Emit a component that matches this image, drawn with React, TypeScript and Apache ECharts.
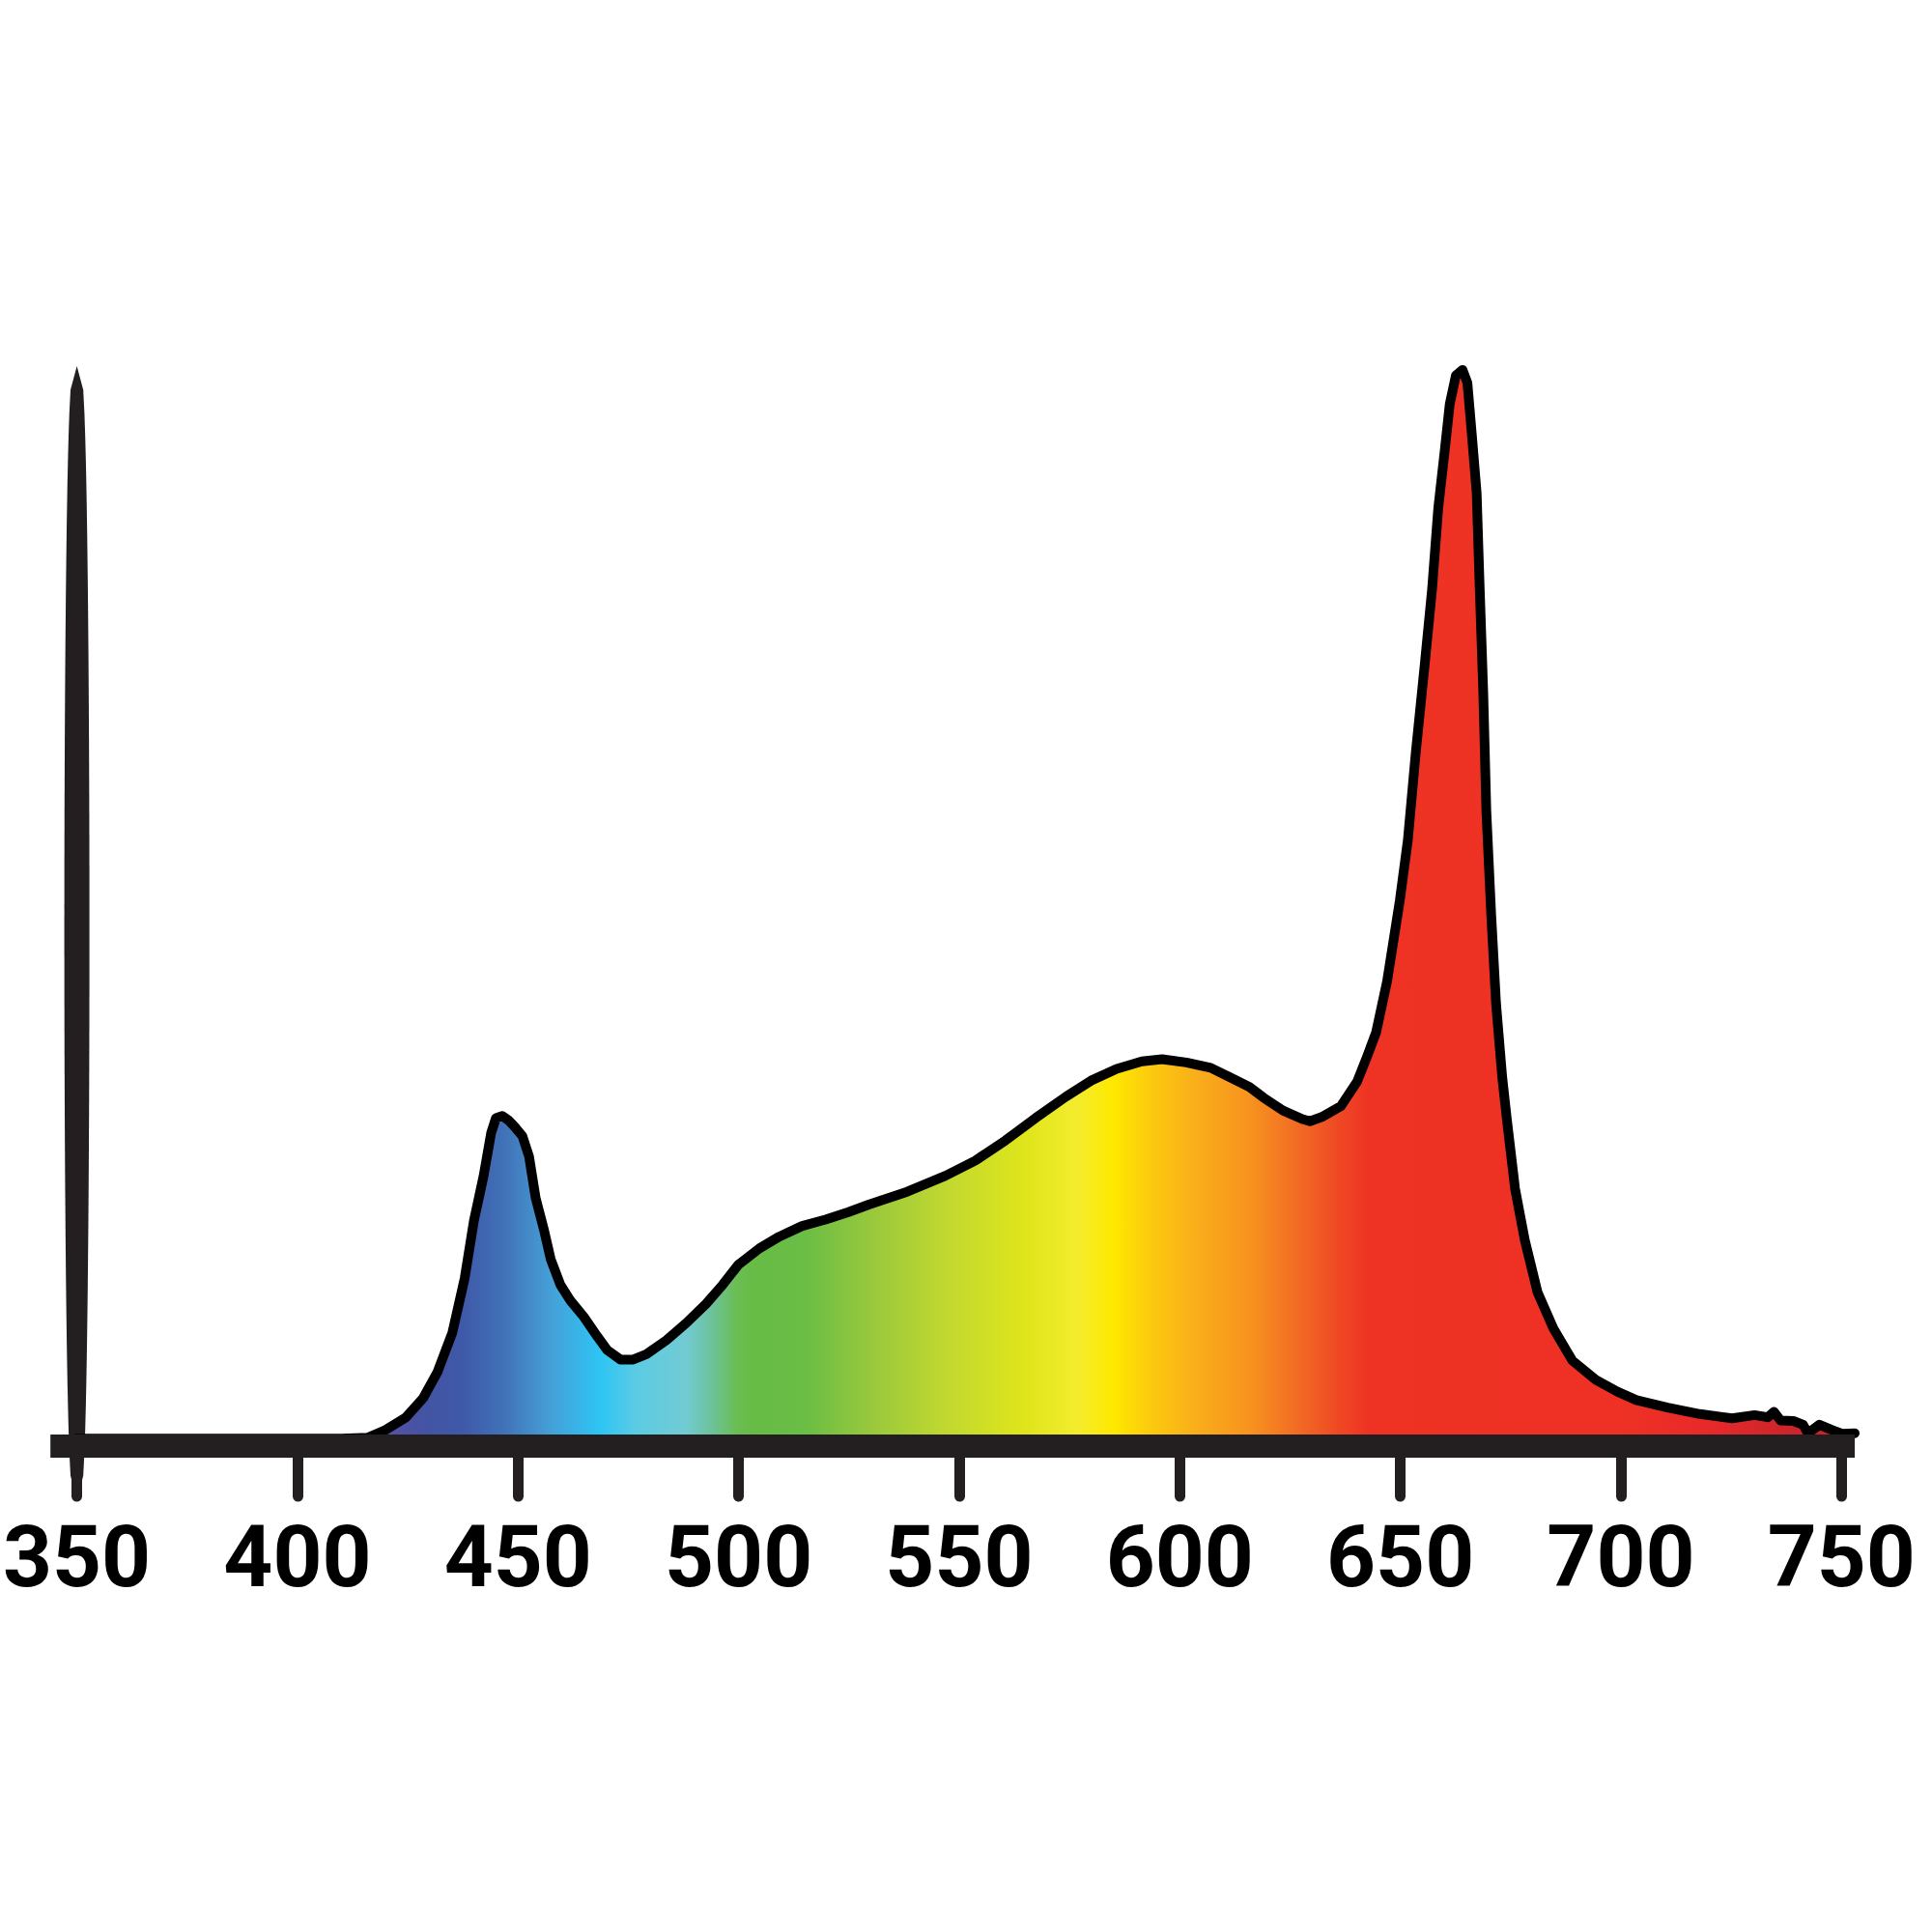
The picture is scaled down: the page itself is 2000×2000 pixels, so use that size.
import { useEffect, useRef } from "react";
import * as echarts from "echarts";

// Spectrum (nm, relative intensity, peak = 100)
const wavelengths = [
  350, 380, 410, 416, 419.7, 424.6, 428.5, 431.7, 435.1, 437.9, 440, 442.2,
  443.9, 445, 446.4, 447.8, 449.2, 451, 452.5, 454, 455.9, 457.4, 459.6,
  461.9, 464.9, 467.9, 470.2, 473.2, 476.1, 479.1, 483.6, 488.1, 492.6,
  496.4, 500, 504.7, 509.2, 514.4, 519.7, 524.9, 529.5, 538.2, 546.9, 553.6,
  560.5, 567.3, 574.2, 579.9, 585.7, 591.4, 596, 601.5, 607, 611.4, 615.8,
  619, 623.4, 627.8, 629.5, 632.2, 636.5, 640.2, 642.5, 644.5, 647, 649.9,
  651.7, 653.5, 655.4, 657.2, 658.6, 660.1, 661.2, 662.6, 664.1, 665.2,
  666.2, 667.3, 668, 668.8, 669.5, 670.6, 671.7, 673.1, 674.2, 676, 678.2,
  681.1, 684.7, 689, 694.3, 699.2, 703.5, 710.6, 717.9, 725.2, 730.3, 733.3,
  734.7, 736.2, 739.1, 741.3, 742.4, 745, 747.9, 750.1, 753,
];
const intensity = [
  0, 0, 0, 0.1, 0.75, 2, 3.8, 6.2, 9.9, 15, 20.4, 24.6, 28.6, 30, 30.2, 29.8,
  29.2, 28.3, 26.4, 22.5, 19.5, 16.8, 14.4, 12.9, 11.4, 9.6, 8.3, 7.4, 7.4,
  7.9, 9.2, 10.8, 12.6, 14.4, 16.3, 17.8, 18.9, 19.9, 20.5, 21.2, 21.9, 23.1,
  24.6, 26, 27.9, 30, 32, 33.5, 34.6, 35.3, 35.5, 35.2, 34.7, 33.8, 32.9,
  31.9, 30.7, 29.9, 29.7, 30.1, 31.1, 33.4, 35.8, 38, 42.8, 50.4, 56, 64.2,
  71.9, 79.5, 87.1, 92.6, 96.8, 99.5, 100, 98.8, 94, 88.5, 79.5, 69.8, 58.7,
  49, 40.7, 33.8, 29.7, 23.4, 18.6, 13.7, 10.3, 7.3, 5.5, 4.4, 3.6, 2.9, 2.3,
  1.9, 2.2, 2, 2.5, 1.7, 1.65, 1.3, 0.5, 1.3, 0.8, 0.45, 0.5,
];

const tickValues = [350, 400, 450, 500, 550, 600, 650, 700, 750];

// the tall marker standing at 350 nm
const markerPoint = [350, 100];

// fill colour by wavelength
const gradientNm = [
  418, 428, 437, 447, 457.5, 468.6, 476.8, 488, 494, 499.3, 503, 515, 531,
  548, 565, 576.5, 585, 593.7, 604.8, 615.8, 626.8, 635.5, 643, 700, 720, 738,
  753,
];
const gradientColors = [
  "#5b51a6", "#4553a3", "#3f58a8", "#4172b8", "#45a0d8", "#2dc5f4",
  "#5bcbe4", "#72cbd3", "#6cc29a", "#6bbe55", "#67bc46", "#6abd45",
  "#9bc93c", "#c3d92f", "#dfe51a", "#f3ec2e", "#fee800", "#fcc90f",
  "#f9ab1b", "#f7931e", "#f26b24", "#ef4a24", "#ee3224", "#ee3124",
  "#e8292a", "#cc252a", "#c4262c",
];

export default function App() {
  const chartRef = useRef<HTMLDivElement>(null);

  useEffect(() => {
    if (!chartRef.current) return;
    const chart = echarts.init(chartRef.current, null, { renderer: "svg" });

    const first = wavelengths[0];
    const last = wavelengths[wavelengths.length - 1];
    const stops = gradientNm.map((nm, i) => ({
      offset: Math.min(1, Math.max(0, (nm - first) / (last - first))),
      color: gradientColors[i],
    }));

    chart.setOption({
      animation: false,
      backgroundColor: "#ffffff",
      grid: { left: 49, right: 80, top: 383, bottom: 503 },
      xAxis: {
        type: "value",
        min: 344,
        max: 753,
        z: 3,
        splitLine: { show: false },
        axisLine: {
          onZero: false,
          lineStyle: { color: "#231f20", width: 24, cap: "butt" },
        },
        axisTick: {
          customValues: tickValues,
          length: 52,
          lineStyle: { color: "#231f20", width: 11, cap: "round" },
        },
        axisLabel: {
          customValues: tickValues,
          margin: 70,
          color: "#000000",
          fontFamily: "Roboto",
          fontWeight: 700,
          fontSize: 89,
        },
      },
      yAxis: {
        type: "value",
        min: -0.7,
        max: 100,
        show: false,
      },
      series: [
        {
          type: "line",
          data: wavelengths.map((w, i) => [w, intensity[i]]),
          showSymbol: false,
          smooth: false,
          z: 2,
          lineStyle: { color: "#000000", width: 10, join: "round", cap: "round" },
          areaStyle: {
            opacity: 1,
            color: new echarts.graphic.LinearGradient(0, 0, 1, 0, stops),
          },
        },
        {
          type: "custom",
          clip: false,
          z: 2,
          data: [markerPoint],
          renderItem: (_params: any, api: any) => {
            const top = api.coord([api.value(0), api.value(1)]);
            const base = api.coord([api.value(0), 0]);
            const x = top[0];
            const tipY = top[1] - 4;
            const bottomY = base[1] + 63;
            const n = 48;
            const right: number[][] = [];
            const left: number[][] = [];
            for (let i = 0; i <= n; i++) {
              const t = i / n;
              const y = tipY + t * (bottomY - tipY);
              const hw = 13 * Math.pow(Math.sin(Math.PI * t), 0.25);
              right.push([x + hw, y]);
              left.unshift([x - hw, y]);
            }
            return {
              type: "polygon",
              shape: { points: right.concat(left) },
              style: { fill: "#231f20" },
            };
          },
        },
      ],
    });

    return () => {
      chart.dispose();
    };
  }, []);

  return (
    <div
      ref={chartRef}
      style={{
        position: "fixed",
        left: 0,
        top: 0,
        width: 2000,
        height: 2000,
        background: "#ffffff",
      }}
    />
  );
}
